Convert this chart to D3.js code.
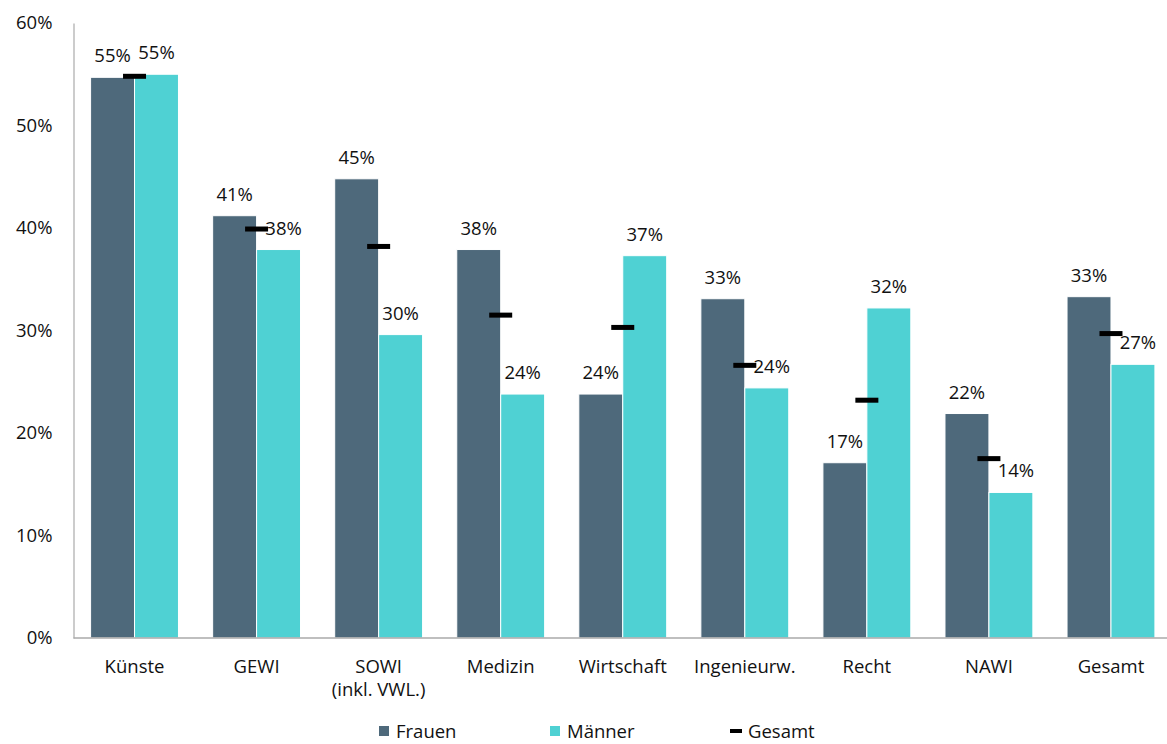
<!DOCTYPE html>
<html>
<head>
<meta charset="utf-8">
<script src="https://cdn.jsdelivr.net/npm/d3@7"></script>
<style>
  html, body { margin: 0; padding: 0; background: #fff; }
  svg { display: block; font-family: "Open Sans", sans-serif; }
</style>
</head>
<body>
<svg id="chart" width="1167" height="744"></svg>
<script>
// Anteil nach Fachrichtung und Geschlecht
const categories = ["Künste", "GEWI", "SOWI\n(inkl. VWL.)", "Medizin", "Wirtschaft", "Ingenieurw.", "Recht", "NAWI", "Gesamt"];
const frauen  = [0.547, 0.412, 0.448, 0.379, 0.238, 0.331, 0.171, 0.219, 0.333];
const maenner = [0.550, 0.379, 0.296, 0.238, 0.373, 0.244, 0.322, 0.142, 0.267];
const gesamt  = [0.548, 0.399, 0.382, 0.315, 0.303, 0.266, 0.232, 0.175, 0.297];
const yTicks  = [0, 0.1, 0.2, 0.3, 0.4, 0.5, 0.6];
const seriesNames = ["Frauen", "Männer", "Gesamt"];

const colors = { Frauen: "#4e697b", "Männer": "#4fd1d3", Gesamt: "#000" };
const fontSize = 18.5;

const svg = d3.select("#chart");
const margin = { left: 73.5, right: 1172, top: 23, bottom: 638 };

const x = d3.scaleBand().domain(categories).range([margin.left, margin.right]).paddingInner(0.28).paddingOuter(0.14);
const xSub = d3.scaleBand().domain(["Frauen", "Männer"]).range([0, x.bandwidth()]);
const y = d3.scaleLinear().domain([0, 0.6]).range([margin.bottom, margin.top]);
const pct = d3.format(".0%");

// y axis
const yAxis = svg.append("g")
  .attr("transform", `translate(${margin.left},0)`)
  .call(d3.axisLeft(y).tickValues(yTicks).tickFormat(pct).tickSize(0).tickPadding(21));
yAxis.select(".domain").attr("stroke", "#aaa").attr("stroke-width", 1.2);
yAxis.selectAll("text").attr("font-size", fontSize).attr("fill", "#111").attr("font-family", "Open Sans");

// bars
const groups = svg.append("g").selectAll("g")
  .data(categories.map((c, i) => ({ c, i })))
  .join("g")
  .attr("transform", d => `translate(${x(d.c)},0)`);

groups.append("rect")
  .attr("x", xSub("Frauen"))
  .attr("y", d => y(frauen[d.i]))
  .attr("width", xSub.bandwidth())
  .attr("height", d => y(0) - y(frauen[d.i]))
  .attr("fill", colors.Frauen)
  .attr("stroke", "#fff").attr("stroke-width", 1);

groups.append("rect")
  .attr("x", xSub("Männer"))
  .attr("y", d => y(maenner[d.i]))
  .attr("width", xSub.bandwidth())
  .attr("height", d => y(0) - y(maenner[d.i]))
  .attr("fill", colors["Männer"])
  .attr("stroke", "#fff").attr("stroke-width", 1);

// value labels
const labelGap = 15;
groups.append("text")
  .attr("x", xSub("Frauen") + xSub.bandwidth() / 2)
  .attr("y", d => y(frauen[d.i]) - labelGap)
  .attr("text-anchor", "middle")
  .attr("font-size", fontSize).attr("fill", "#111")
  .text(d => pct(frauen[d.i]));

// nudge a Männer label right when the Gesamt marker sits at its height
groups.append("text")
  .attr("x", d => {
    const cx = xSub("Männer") + xSub.bandwidth() / 2;
    const labelMid = y(maenner[d.i]) - labelGap - 6;
    const clash = Math.abs(y(gesamt[d.i]) - labelMid) < 14 && d.i !== 0;
    return clash ? cx + 5 : cx;
  })
  .attr("y", d => y(maenner[d.i]) - labelGap)
  .attr("text-anchor", "middle")
  .attr("font-size", fontSize).attr("fill", "#111")
  .text(d => pct(maenner[d.i]));

// Gesamt markers
groups.append("rect")
  .attr("x", x.bandwidth() / 2 - 11.5)
  .attr("y", d => y(gesamt[d.i]) - 2.5)
  .attr("width", 23)
  .attr("height", 5)
  .attr("fill", colors.Gesamt);

// x axis
svg.append("line")
  .attr("x1", margin.left).attr("x2", 1167)
  .attr("y1", y(0)).attr("y2", y(0))
  .attr("stroke", "#aaa").attr("stroke-width", 1.5);

const xLabels = svg.append("g").selectAll("text")
  .data(categories)
  .join("text")
  .attr("x", d => x(d) + x.bandwidth() / 2)
  .attr("y", 673)
  .attr("text-anchor", "middle")
  .attr("font-size", fontSize).attr("fill", "#111");
xLabels.each(function (d) {
  d3.select(this).selectAll("tspan")
    .data(d.split("\n"))
    .join("tspan")
    .attr("x", x(d) + x.bandwidth() / 2)
    .attr("dy", (t, i) => i === 0 ? 0 : 23)
    .text(t => t);
});

// legend
const legendX = [379, 550, 730];
const legend = svg.append("g").selectAll("g")
  .data(seriesNames)
  .join("g")
  .attr("transform", (d, i) => `translate(${legendX[i]},731)`);
legend.each(function (d) {
  const g = d3.select(this);
  if (d === "Gesamt") {
    g.append("rect").attr("x", 0).attr("y", -2).attr("width", 12).attr("height", 4).attr("fill", colors.Gesamt);
  } else {
    g.append("rect").attr("x", 0).attr("y", -5).attr("width", 10).attr("height", 10).attr("fill", colors[d]);
  }
  g.append("text")
    .attr("x", d === "Gesamt" ? 18 : 17)
    .attr("y", 6.5)
    .attr("font-size", fontSize).attr("fill", "#111")
    .text(d);
});
</script>
</body>
</html>
